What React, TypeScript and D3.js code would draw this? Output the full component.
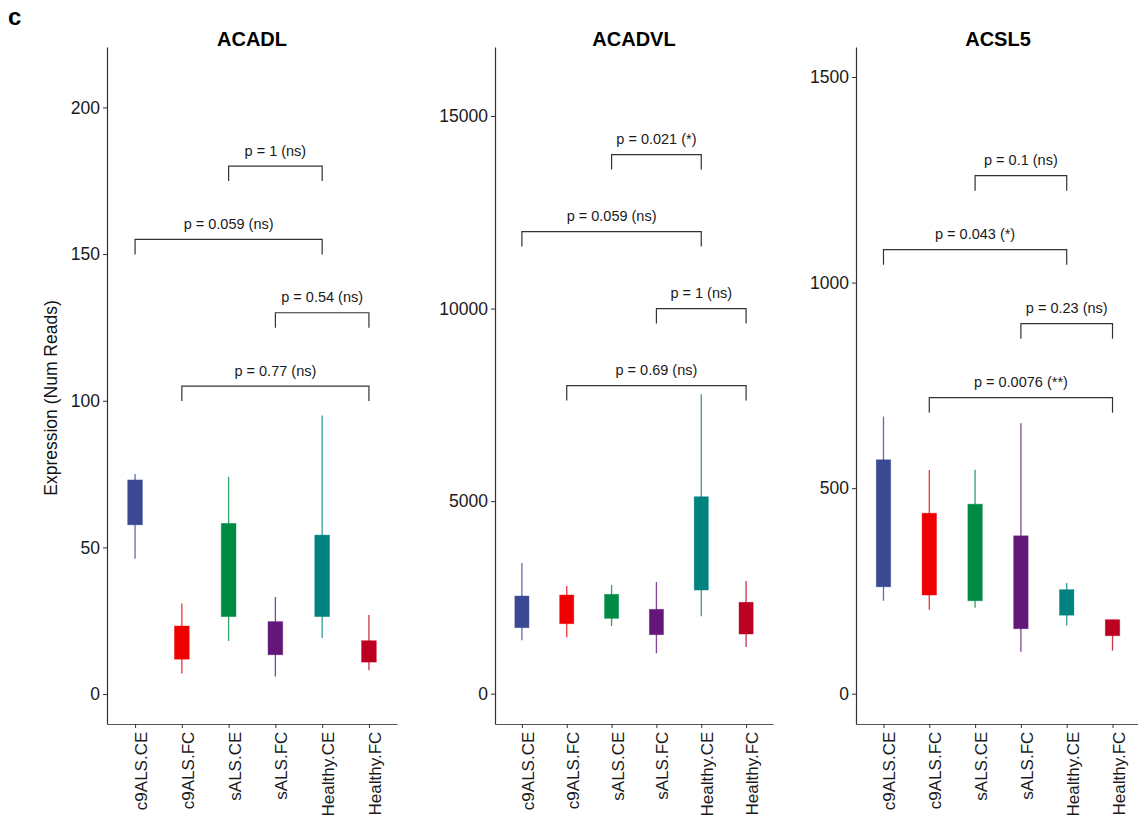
import * as d3 from "d3";
import { useEffect, useRef } from "react";

// groups and colours (AAAS palette)
const groups = ["c9ALS.CE", "c9ALS.FC", "sALS.CE", "sALS.FC", "Healthy.CE", "Healthy.FC"];
const groupColors = ["#3B4992", "#EE0000", "#008B45", "#631879", "#008280", "#BB0021"];

// ACADL: whisker low, q1, q3, whisker high
const acadlLow = [46.1, 7.0, 18.1, 6.0, 19.1, 8.1];
const acadlQ1 = [57.7, 11.9, 26.4, 13.4, 26.4, 10.9];
const acadlQ3 = [73.0, 23.2, 58.2, 24.7, 54.2, 18.2];
const acadlHigh = [75.0, 30.9, 74.0, 33.1, 95.0, 27.0];
const acadlTicks = [0, 50, 100, 150, 200];
const acadlBracketY = [180, 155, 130, 105];
const acadlLabels = ["p = 1 (ns)", "p = 0.059 (ns)", "p = 0.54 (ns)", "p = 0.77 (ns)"];

// ACADVL
const acadvlLow = [1386, 1464, 1757, 1049, 2009, 1212];
const acadvlQ1 = [1714, 1817, 1957, 1532, 2692, 1550];
const acadvlQ3 = [2536, 2562, 2580, 2191, 5114, 2373];
const acadvlHigh = [3393, 2796, 2822, 2900, 7773, 2926];
const acadvlTicks = [0, 5000, 10000, 15000];
const acadvlBracketY = [14000, 12000, 10000, 8000];
const acadvlLabels = ["p = 0.021 (*)", "p = 0.059 (ns)", "p = 1 (ns)", "p = 0.69 (ns)"];

// ACSL5
const acsl5Low = [226, 204, 209, 102, 166, 105];
const acsl5Q1 = [260, 240, 226, 158, 191, 141];
const acsl5Q3 = [569, 439, 461, 384, 253, 180];
const acsl5High = [674, 544, 545, 658, 269, 180];
const acsl5Ticks = [0, 500, 1000, 1500];
const acsl5BracketY = [1260, 1080, 900, 720];
const acsl5Labels = ["p = 0.1 (ns)", "p = 0.043 (*)", "p = 0.23 (ns)", "p = 0.0076 (**)"];

// comparisons (group index pairs), same for every gene
const bracketPairs = [[2, 4], [0, 4], [3, 5], [1, 5]];

const panels = [
  { title: "ACADL", low: acadlLow, q1: acadlQ1, q3: acadlQ3, high: acadlHigh, ticks: acadlTicks, domain: [-10.2, 220.6], by: acadlBracketY, labels: acadlLabels },
  { title: "ACADVL", low: acadvlLow, q1: acadvlQ1, q3: acadvlQ3, high: acadvlHigh, ticks: acadvlTicks, domain: [-787, 16792], by: acadvlBracketY, labels: acadvlLabels },
  { title: "ACSL5", low: acsl5Low, q1: acsl5Q1, q3: acsl5Q3, high: acsl5High, ticks: acsl5Ticks, domain: [-73.7, 1573], by: acsl5BracketY, labels: acsl5Labels },
];

const frames = [
  { x0: 107, x1: 397 },
  { x0: 495, x1: 773 },
  { x0: 856, x1: 1140 },
];

const width = 1138;
const height = 825;
const top = 47;
const bottom = 724;
const font = "'Liberation Sans', Arial, Helvetica, sans-serif";

export default function App() {
  const ref = useRef<SVGSVGElement>(null);

  useEffect(() => {
    document.body.style.margin = "0";
    const svg = d3.select(ref.current);
    svg.selectAll("*").remove();

    // panel letter
    svg.append("text")
      .attr("x", 8)
      .attr("y", 25)
      .attr("font-family", font)
      .attr("font-weight", "bold")
      .attr("font-size", 24)
      .text("c");

    // y axis title
    svg.append("text")
      .attr("transform", "translate(57,398) rotate(-90)")
      .attr("text-anchor", "middle")
      .attr("font-family", font)
      .attr("font-size", 17.5)
      .attr("fill", "#111")
      .text("Expression (Num Reads)");

    panels.forEach((p, k) => {
      const fr = frames[k];
      const x = d3.scalePoint<string>().domain(groups).range([fr.x0, fr.x1]).padding(0.6);
      const y = d3.scaleLinear().domain(p.domain).range([bottom, top]);
      const g = svg.append("g");

      // title
      g.append("text")
        .attr("x", (fr.x0 + fr.x1) / 2)
        .attr("y", 46)
        .attr("text-anchor", "middle")
        .attr("font-family", font)
        .attr("font-weight", "bold")
        .attr("font-size", 20)
        .text(p.title);

      // y axis
      const yAxis = d3.axisLeft(y)
        .tickValues(p.ticks)
        .tickFormat(d3.format("d"))
        .tickSize(4)
        .tickPadding(3)
        .tickSizeOuter(0);
      const ya = g.append("g")
        .attr("transform", `translate(${fr.x0},0)`)
        .call(yAxis);
      ya.attr("font-family", font).attr("font-size", 17.5);
      ya.select(".domain").attr("stroke", "#333").attr("stroke-width", 1.2);
      ya.selectAll(".tick line").attr("stroke", "#333");
      ya.selectAll(".tick text").attr("fill", "#1a1a1a");

      // x axis
      const xAxis = d3.axisBottom(x).tickSize(4).tickSizeOuter(0);
      const xa = g.append("g")
        .attr("transform", `translate(0,${bottom})`)
        .call(xAxis);
      xa.attr("font-family", font).attr("font-size", 17);
      xa.select(".domain").attr("stroke", "#555").attr("stroke-width", 1.2);
      xa.selectAll(".tick line").attr("stroke", "#333");
      xa.selectAll(".tick text")
        .attr("transform", "rotate(-90)")
        .attr("text-anchor", "end")
        .attr("x", -7.7)
        .attr("y", 11.5)
        .attr("dy", null)
        .attr("fill", "#1a1a1a");

      // boxes
      const boxW = x.step() * 0.315;
      groups.forEach((grp, i) => {
        const cx = x(grp)!;
        g.append("line")
          .attr("x1", cx).attr("x2", cx)
          .attr("y1", y(p.low[i])).attr("y2", y(p.high[i]))
          .attr("stroke", groupColors[i])
          .attr("stroke-opacity", 0.8)
          .attr("stroke-width", 1.3);
        g.append("rect")
          .attr("x", cx - boxW / 2)
          .attr("y", y(p.q3[i]))
          .attr("width", boxW)
          .attr("height", y(p.q1[i]) - y(p.q3[i]))
          .attr("fill", groupColors[i])
          .attr("stroke", groupColors[i])
          .attr("stroke-opacity", 0.5)
          .attr("stroke-width", 0.8);
      });

      // significance brackets
      bracketPairs.forEach(([a, b], j) => {
        const xa0 = x(groups[a])!;
        const xb0 = x(groups[b])!;
        const yy = y(p.by[j]);
        g.append("path")
          .attr("d", `M${xa0},${yy + 15}V${yy}H${xb0}V${yy + 15}`)
          .attr("fill", "none")
          .attr("stroke", "#333")
          .attr("stroke-width", 1.2);
        g.append("text")
          .attr("x", (xa0 + xb0) / 2)
          .attr("y", yy - 10.5)
          .attr("text-anchor", "middle")
          .attr("font-family", font)
          .attr("font-size", 14.5)
          .attr("fill", "#1a1a1a")
          .text(p.labels[j]);
      });
    });
  }, []);

  return <svg ref={ref} width={width} height={height} style={{ display: "block", background: "#fff" }} />;
}
